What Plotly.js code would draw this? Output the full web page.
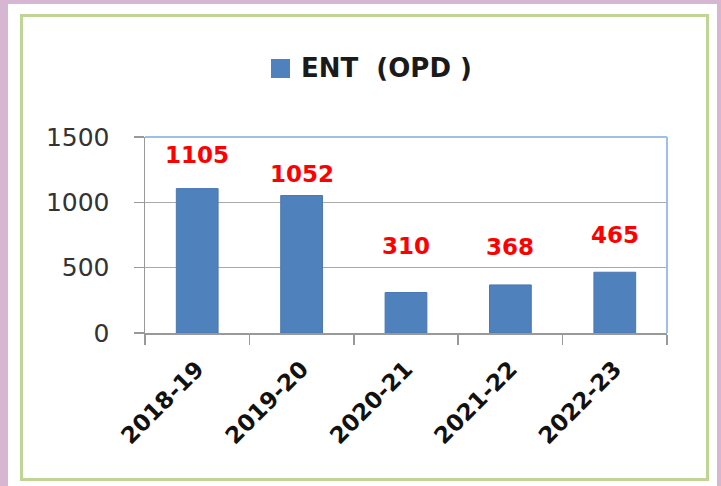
<!DOCTYPE html>
<html>
<head>
<meta charset="utf-8">
<script src="https://cdn.plot.ly/plotly-3.0.1.min.js"></script>
<style>
  html, body { margin: 0; padding: 0; width: 721px; height: 486px; overflow: hidden; background: #d6b6d2; }
  #panel { position: absolute; left: 8px; top: 4px; width: 709px; height: 490px; background: #ffffff; }
  #frame { position: absolute; left: 20px; top: 14px; width: 683px; height: 461px; border: 3px solid #bfd595; }
  #chart { position: absolute; left: 0; top: 0; width: 721px; height: 486px; }
</style>
</head>
<body>
<div id="panel"></div>
<div id="frame"></div>
<div id="chart"></div>
<script>
const categories = ["2018-19", "2019-20", "2020-21", "2021-22", "2022-23"];
const values = [1105, 1052, 310, 368, 465];
const seriesName = "ENT\u00a0\u00a0(OPD\u00a0)";
const yTickVals = [0, 500, 1000, 1500];

const labelShift = [34, 22, 46, 38, 37];

const trace = {
  type: "bar",
  x: categories,
  y: values,
  name: seriesName,
  marker: { color: "#4f81bd", line: { color: "#4a78b2", width: 1 } },
  hoverinfo: "x+y",
  showlegend: false
};

const annotations = categories.map((c, i) => ({
  x: c, y: values[i], xref: "x", yref: "y",
  text: String(values[i]), showarrow: false,
  yshift: labelShift[i], yanchor: "middle", xanchor: "center",
  font: { family: "DejaVu Sans", size: 23, color: "#ff0000", weight: "bold" }
}));

annotations.push({
  xref: "paper", yref: "paper", x: 0.295, y: 1.352,
  xanchor: "left", yanchor: "middle", showarrow: false,
  text: "<b>" + seriesName + "</b>",
  font: { family: "DejaVu Sans", size: 26, color: "#1a1a1a" }
});

const layout = {
  width: 721, height: 486,
  margin: { l: 145, r: 54, t: 137, b: 153, pad: 0 },
  paper_bgcolor: "rgba(0,0,0,0)",
  plot_bgcolor: "rgba(0,0,0,0)",
  bargap: 0.6,
  showlegend: false,
  xaxis: {
    type: "category",
    tickson: "boundaries",
    ticks: "outside", ticklen: 10, tickcolor: "#999999", tickwidth: 1.5,
    showline: true, linecolor: "#999999", linewidth: 1.5,
    showgrid: false,
    tickangle: -45,
    ticklabelstandoff: 12,
    tickfont: { family: "DejaVu Sans", size: 23, color: "#111111", weight: "bold" }
  },
  yaxis: {
    range: [0, 1500],
    tickvals: yTickVals,
    ticktext: yTickVals.map(String),
    ticks: "outside", ticklen: 10, tickcolor: "#999999", tickwidth: 1.5,
    showline: true, linecolor: "#999999", linewidth: 1.5,
    showgrid: true, gridcolor: "#aaaaaa", gridwidth: 1.5,
    zeroline: false,
    ticklabelstandoff: 19,
    tickfont: { family: "DejaVu Sans", size: 25, color: "#333333" }
  },
  annotations: annotations,
  shapes: [
    { type: "line", xref: "paper", yref: "paper", x0: 0, x1: 1, y0: 1, y1: 1,
      line: { color: "#9fc0e6", width: 2 } },
    { type: "line", xref: "paper", yref: "paper", x0: 1, x1: 1, y0: 0, y1: 1,
      line: { color: "#9fc0e6", width: 2 } },
    { type: "rect", xref: "paper", yref: "paper", x0: 0.2414, x1: 0.2778, y0: 1.301, y1: 1.398,
      fillcolor: "#4f81bd", line: { width: 0 } }
  ]
};

Plotly.newPlot("chart", [trace], layout, { displayModeBar: false, staticPlot: true });
</script>
</body>
</html>
